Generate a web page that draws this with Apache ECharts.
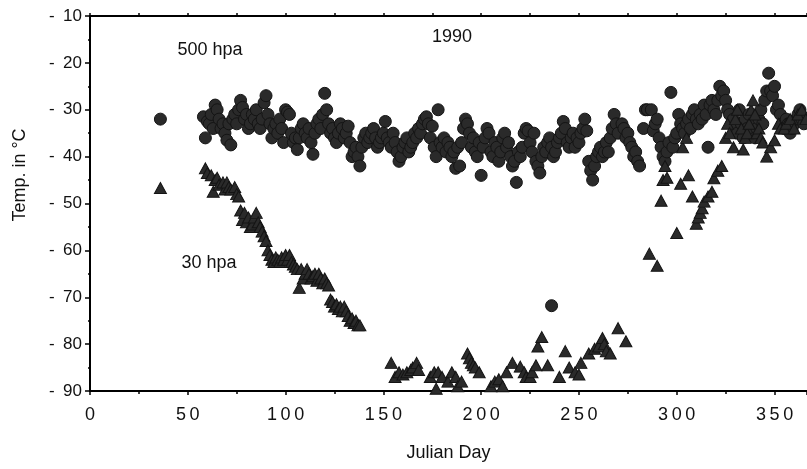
<!DOCTYPE html>
<head>
    <title>ECharts</title>
    <script src="https://cdn.jsdelivr.net/npm/echarts@6/dist/echarts.min.js"></script>
    <style>body{margin:0;background:#fff}</style>
</head>
<body>
    <div id="main" style="width:807px;height:469px"></div>
    <script type="text/javascript">
        // 500 hpa temperatures (circles), [julian day, degC]
        var hpa500 = [
            [36,-32],[58,-31.5],[59,-36],[60,-32.5],[61,-33],[62,-31],[63,-34],[64,-29],[65,-30],[66,-32],[67,-34],[68,-33],[69,-35],
            [70,-36.5],[71,-33],[72,-37.5],[73,-32],[74,-31],[75,-33],[76,-30],[77,-28],[78,-29.5],[79,-32],[80,-31],[81,-34],[82,-33],
            [83,-31],[84,-32],[85,-30],[86,-33],[87,-34],[88,-32],[89,-28.5],[90,-27],[91,-31],[92,-33],[93,-36],[94,-34],[95,-33],
            [96,-35],[97,-32],[98,-34],[99,-37],[100,-30],[101,-30.5],[102,-31],[103,-35],[104,-37],[105,-36],[106,-38.5],[107,-36],
            [108,-34],[109,-33],[110,-35],[111,-36],[112,-34],[113,-37],[114,-39.5],[115,-35],[116,-33],[117,-32],[118,-34],[119,-31],
            [120,-26.5],[121,-30],[122,-33],[123,-35],[124,-34],[125,-36],[126,-37],[127,-35],[128,-33],[129,-34],[130,-36],[131,-35],
            [132,-33.5],[133,-37],[134,-40],[135,-39],[136,-38],[137,-40],[138,-42],[139,-38],[140,-36],[141,-35],[142,-37],[143,-36],
            [144,-35],[145,-34],[146,-36],[147,-38],[148,-37],[149,-36],[150,-35],[151,-32.5],[152,-36],[153,-37],[154,-38],[155,-35],
            [156,-37],[157,-39],[158,-41],[159,-40],[160,-38],[161,-37],[162,-36],[163,-39],[164,-38],[165,-37],[166,-35],[167,-36],
            [168,-34],[169,-35],[170,-33],[171,-32],[172,-31.5],[173,-33],[174,-36],[175,-33.5],[176,-38],[177,-40],[178,-30],[179,-37],
            [180,-38],[181,-36],[182,-39],[183,-37],[184,-38],[185,-40],[186,-39],[187,-42.5],[188,-38],[189,-42],[190,-37],[191,-34],
            [192,-32],[193,-33],[194,-35],[195,-38],[196,-36],[197,-39],[198,-40],[199,-37],[200,-44],[201,-38],[202,-36],[203,-34],
            [204,-35],[205,-39],[206,-40],[207,-37],[208,-38],[209,-41],[210,-39],[211,-36],[212,-35],[213,-38],[214,-37],[215,-40],
            [216,-42],[217,-41],[218,-45.5],[219,-39],[220,-40],[221,-38],[222,-35],[223,-34],[224,-34.5],[225,-37],[226,-39],[227,-35],
            [228,-41],[229,-42],[230,-43.5],[231,-40],[232,-38],[233,-39],[234,-37],[235,-36],[236,-38],[237,-40],[238,-39],[239,-37],
            [240,-36],[241,-35],[242,-32.5],[243,-34],[244,-37],[245,-38],[246,-36],[247,-35],[248,-38],[249,-36],[250,-37],[251,-35],
            [252,-34],[253,-32],[254,-34.5],[255,-41],[256,-43],[257,-45],[258,-42],[259,-40],[260,-39],[261,-38],[262,-40],[263,-39],
            [264,-37],[265,-39],[266,-36],[267,-34],[268,-31],[269,-33],[270,-35],[272,-33],[273,-34],[274,-36],[275,-35],[276,-37],
            [277,-38],[278,-40],[279,-39],[280,-41],[281,-42],[283,-34],[284,-30],[285,-30],[287,-30],[288,-34.5],[289,-33],[290,-32],
            [291,-36],[292,-38],[293,-40],[294,-41],[295,-39],[296,-37],[297,-26.3],[298,-38],[299,-36],[300,-35],[301,-31],[302,-33],
            [303,-34],[304,-35],[305,-33],[306,-32],[307,-34],[308,-31],[309,-30],[310,-32],[311,-33],[312,-31],[313,-32],[314,-29],
            [315,-31],[316,-38],[317,-29],[318,-28],[319,-30],[320,-31],[321,-28],[322,-25],[323,-27],[324,-26],[325,-28],[326,-30],
            [327,-31],[328,-33],[329,-32],[330,-34],[331,-35],[332,-30],[333,-33],[334,-36],[335,-32],[336,-34],[337,-31],[338,-35],
            [339,-33],[340,-36],[341,-34],[342,-32],[343,-30],[344,-33],[345,-28],[346,-26],[347,-22.2],[348,-26],[349,-27],[350,-25],
            [351,-30],[352,-29],[353,-31],[354,-33],[355,-34],[356,-32],[357,-33],[358,-35],[359,-34],[360,-33],[361,-32],[362,-31],
            [363,-30],[364,-32],[365,-33],[236,-71.8]
        ];

        // 30 hpa temperatures (triangles), [julian day, degC]
        var hpa30 = [
            [36,-46.7],[59,-42.5],[60,-43.5],[62,-44],[63,-47.5],[64,-45],[65,-44.5],[66,-46],[68,-45.5],[69,-47],[70,-45.5],[71,-46.5],
            [72,-47],[74,-46.5],[75,-48],[76,-48.5],[77,-51.5],[78,-53.5],[79,-52],[80,-54],[81,-53],[82,-55],[83,-54.5],[84,-53],
            [85,-52],[86,-54],[87,-55],[88,-56],[89,-57],[90,-58],[91,-60],[92,-61],[93,-62],[94,-62.5],[95,-61.5],[96,-62],[97,-62.5],
            [98,-61.5],[99,-62],[100,-61],[101,-62],[102,-61],[103,-62.5],[104,-63],[105,-63.5],[106,-64],[107,-68],[108,-64],[109,-66],
            [110,-65],[111,-64],[112,-65],[113,-66],[114,-65.5],[115,-65],[116,-66.5],[117,-65],[118,-66],[119,-67],[120,-66],[121,-67],
            [122,-67.5],[123,-70.5],[124,-71],[125,-72],[126,-71.5],[127,-72.5],[128,-72],[129,-73],[130,-72],[131,-73],[132,-74],
            [133,-75],[134,-74.5],[135,-75.5],[136,-75],[137,-76],[138,-76],
            [154,-84],[156,-87],[158,-86],[160,-86.5],[162,-86],[164,-85.5],[165,-85],[167,-84],[168,-85.5],[174,-87],[176,-86],
            [178,-86],[177,-89.5],[180,-87],[183,-88],[185,-86],[187,-87],[188,-89],[190,-88],[193,-82],[194,-83],[195,-84],[196,-84.5],
            [197,-85],[199,-86],[205,-89],[207,-88],[209,-87.5],[211,-89],[213,-86],[216,-84],[220,-84.8],[222,-86],[223,-87],[225,-87],
            [226,-86],[228,-84.5],[229,-80.5],[231,-78.5],[234,-84.5],[240,-87],[243,-81.5],[245,-85],[248,-86],[250,-86.5],[251,-84],
            [255,-82],[258,-81],[260,-80.5],[262,-78.7],[263,-80],[264,-81.5],[266,-82],[270,-76.6],[274,-79.4],
            [286,-60.7],[290,-63.3],[292,-49.4],[293,-45],[294,-42],[295,-44.5],[300,-56.3],[302,-45.8],[303,-38],[306,-44],[305,-36],
            [308,-48.5],[310,-54.3],[311,-53],[312,-52],[313,-51],[314,-49.6],[316,-48.5],[318,-47.5],[319,-44.6],[321,-43],[323,-42],
            [325,-36],[326,-33],[327,-35],[329,-38],[330,-32],[331,-30],[333,-34],[334,-38.5],[335,-36],[336,-35],[337,-33],[338,-30],
            [339,-28],[340,-31],[341,-35],[342,-34],[343,-36],[344,-37],[346,-40],[348,-38],[350,-36.5],[352,-33],[353,-34],[355,-34],
            [356,-33],[358,-32],[360,-34],[362,-31],[364,-30],[366,-32]
        ];

        var labels = [
            {text: '500 hpa', x: 210, y: 50},
            {text: '1990', x: 452, y: 37},
            {text: '30 hpa', x: 209, y: 263}
        ];

        var myChart = echarts.init(document.getElementById('main'));
        var font = 'Liberation Sans, Arial, sans-serif';

        var graphics = labels.map(function (l) {
            return {type: 'text', x: l.x, y: l.y, z: 10,
                style: {text: l.text, font: '18px ' + font, fill: '#111', textAlign: 'center', textVerticalAlign: 'middle'}};
        });
        graphics.push({type: 'text', x: 20, y: 175, rotation: Math.PI / 2, z: 10,
            style: {text: 'Temp. in °C', font: '18px ' + font, fill: '#111', textAlign: 'center', textVerticalAlign: 'middle'}});

        var option = {
            animation: false,
            backgroundColor: '#fff',
            grid: {left: 90, top: 16, right: 0, bottom: 78},
            graphic: graphics,
            xAxis: [
                {
                    type: 'value', min: 0, max: 366.6, interval: 50,
                    name: 'Julian Day', nameLocation: 'middle', nameGap: 53,
                    nameTextStyle: {fontSize: 18, fontFamily: font, color: '#111'},
                    splitLine: {show: false},
                    axisLine: {onZero: false, lineStyle: {color: '#000', width: 2}},
                    axisTick: {length: 4, lineStyle: {color: '#000', width: 1.5}},
                    minorTick: {show: true, splitNumber: 2, length: 3, lineStyle: {color: '#000', width: 1.5}},
                    axisLabel: {showMaxLabel: false, margin: 15, fontSize: 18, fontFamily: font, color: '#111',
                        formatter: function (v) { return String(v).split('').join('\u2009'); }}
                },
                {
                    type: 'value', position: 'top', min: 0, max: 366.6, interval: 25,
                    splitLine: {show: false},
                    axisLine: {onZero: false, lineStyle: {color: '#000', width: 2}},
                    axisTick: {length: 3, lineStyle: {color: '#000', width: 1.5}},
                    axisLabel: {show: false}
                }
            ],
            yAxis: {
                type: 'value', min: -90, max: -10, interval: 10,
                splitLine: {show: false},
                axisLine: {onZero: false, lineStyle: {color: '#000', width: 2}},
                axisTick: {length: 5, lineStyle: {color: '#000', width: 1.5}},
                minorTick: {show: true, splitNumber: 2, length: 2, lineStyle: {color: '#000', width: 1.5}},
                axisLabel: {margin: 8, fontSize: 17, fontFamily: font, color: '#111',
                    formatter: function (v) { return v < 0 ? '-\u2002' + Math.abs(v) : String(v); }}
            },
            series: [
                {
                    name: '500 hpa', type: 'scatter', data: hpa500,
                    symbol: 'circle', symbolSize: 12,
                    itemStyle: {color: '#2a2a2a', borderColor: '#141414', borderWidth: 1, opacity: 1}
                },
                {
                    name: '30 hpa', type: 'scatter', data: hpa30,
                    symbol: 'triangle', symbolSize: [12, 11],
                    itemStyle: {color: '#2a2a2a', borderColor: '#141414', borderWidth: 1, opacity: 1}
                }
            ]
        };

        myChart.setOption(option);
    </script>
</body>
